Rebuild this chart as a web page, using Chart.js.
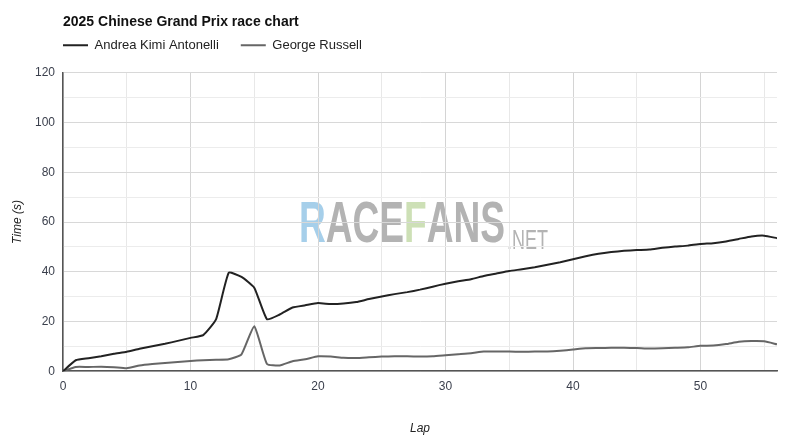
<!DOCTYPE html>
<html>
<head>
<meta charset="utf-8">
<script src="https://cdn.jsdelivr.net/npm/chart.js@4.4.1/dist/chart.umd.min.js"></script>
<style>
  html, body { margin: 0; padding: 0; background: #fff; }
  #wrap { width: 800px; height: 444px; }
</style>
</head>
<body>
<div id="wrap"><canvas id="raceChart" width="800" height="444"></canvas></div>
<script>
"use strict";

// Varv
const laps = [0, 1, 2, 3, 4, 5, 6, 7, 8, 9, 10, 11, 12, 13, 14, 15, 16, 17, 18, 19,
    20, 21, 22, 23, 24, 25, 26, 27, 28, 29, 30, 31, 32, 33, 34, 35, 36, 37, 38, 39,
    40, 41, 42, 43, 44, 45, 46, 47, 48, 49, 50, 51, 52, 53, 54, 55, 56];

// Tid (s) per förare
const antonelli = [0, 4.4, 5.2, 6.0, 7.0, 7.8, 9.0, 10.0, 11.0, 12.2, 13.4, 14.5, 20.8, 39.6, 37.9, 33.6,
    20.9, 22.8, 25.6, 26.5, 27.4, 27.0, 27.2, 27.8, 29.0, 30.0, 31.0, 31.8, 32.8, 34.0, 35.2, 36.2,
    37.0, 38.3, 39.3, 40.3, 41.0, 41.8, 42.8, 43.8, 45.0, 46.2, 47.2, 47.9, 48.4, 48.7, 48.9, 49.6,
    50.1, 50.5, 51.2, 51.5, 52.2, 53.2, 54.2, 54.5, 53.5];

const russell = [0, 1.7, 1.7, 1.8, 1.6, 1.2, 2.3, 2.9, 3.3, 3.7, 4.1, 4.4, 4.6, 4.8, 6.8, 18.1,
    2.9, 2.3, 4.0, 4.8, 6.0, 5.9, 5.4, 5.3, 5.6, 5.9, 6.0, 6.0, 5.9, 6.0, 6.4, 6.8,
    7.2, 7.9, 7.9, 7.9, 7.8, 7.9, 7.9, 8.2, 8.7, 9.2, 9.3, 9.4, 9.4, 9.3, 9.1, 9.2,
    9.4, 9.6, 10.2, 10.3, 10.9, 11.8, 12.1, 12.0, 10.8];

const drivers = ["Andrea Kimi Antonelli", "George Russell"];
const xTicks = [0, 10, 20, 30, 40, 50];
const yTicks = [0, 20, 40, 60, 80, 100, 120];

const font = "'Liberation Sans', Arial, sans-serif";
const tickColor = "#3a3f4c";
const legendGap = 22;

// Vattenstämpel bakom rutnätet
const watermark = {
    id: "watermark",
    beforeDraw(chart) {
        const c = chart.ctx;
        const parts = [
            ["R", "#a6cfea"], ["ACE", "#b3b3b3"], ["F", "#cde0b6"], ["ANS", "#b3b3b3"]
        ];
        c.save();
        c.font = "bold 58px 'Liberation Sans Narrow', 'Liberation Sans', sans-serif";
        c.textBaseline = "alphabetic";
        let total = 0;
        parts.forEach(p => total += c.measureText(p[0]).width);
        c.translate(299, 242);
        c.scale(206 / total, 1);
        let x = 0;
        parts.forEach(p => {
            c.fillStyle = p[1];
            c.fillText(p[0], x, 0);
            x += c.measureText(p[0]).width;
        });
        c.restore();

        c.save();
        c.font = "27px 'Liberation Sans Narrow', 'Liberation Sans', sans-serif";
        const w = c.measureText(".NET").width;
        c.translate(507, 242);
        c.scale(41 / w, 1);
        c.fillStyle = "#b3b3b3";
        c.fillText(".NET", 0, 0);
        c.restore();
    }
};

// Flytta legenden till diagramytans vänsterkant och lite uppåt
const legendShift = {
    id: "legendShift",
    afterLayout(chart) {
        chart.legend.left -= legendGap;
        chart.legend.right -= legendGap;
        chart.legend.top -= 11;
    }
};

const ctx = document.getElementById("raceChart");

new Chart(ctx, {
    type: "line",
    data: {
        datasets: [{
            label: drivers[0],
            data: laps.map((l, i) => ({ x: l, y: antonelli[i] })),
            borderColor: "#222222",
            backgroundColor: "#222222",
            borderWidth: 2,
            pointRadius: 0,
            tension: 0.15
        }, {
            label: drivers[1],
            data: laps.map((l, i) => ({ x: l, y: russell[i] })),
            borderColor: "#666666",
            backgroundColor: "#666666",
            borderWidth: 2,
            pointRadius: 0,
            tension: 0.15
        }]
    },
    options: {
        responsive: false,
        animation: false,
        layout: { padding: { left: 0, right: 23, top: 4, bottom: 4 } },
        plugins: {
            title: {
                display: true,
                text: "2025 Chinese Grand Prix race chart",
                align: "start",
                fullSize: false,
                color: "#111",
                font: { family: font, size: 14, weight: "bold" },
                padding: { top: 10, bottom: -3 }
            },
            legend: {
                align: "start",
                fullSize: false,
                labels: {
                    usePointStyle: true,
                    pointStyle: "line",
                    pointStyleWidth: 25,
                    boxHeight: 12,
                    padding: legendGap,
                    color: "#222",
                    font: { family: font, size: 13 }
                }
            },
            tooltip: { enabled: false }
        },
        scales: {
            x: {
                type: "linear",
                min: 0,
                max: 56,
                afterBuildTicks: (scale) => {
                    scale.ticks = [0, 5, 10, 15, 20, 25, 30, 35, 40, 45, 50, 55].map(v => ({ value: v }));
                },
                ticks: {
                    color: tickColor,
                    font: { family: font, size: 12 },
                    padding: 8,
                    maxRotation: 0,
                    autoSkip: false,
                    callback: (v) => xTicks.includes(v) ? v : ""
                },
                grid: {
                    color: (c) => c.tick && c.tick.value % 10 === 0 ? "#d4d4d4" : "#e8e8e8",
                    drawTicks: false
                },
                border: { color: "#555", width: 1.5 },
                title: {
                    display: true,
                    text: "Lap",
                    color: "#222",
                    font: { family: font, size: 12, style: "italic" },
                    padding: { top: 20 }
                }
            },
            y: {
                min: 0,
                max: 120,
                afterBuildTicks: (scale) => {
                    scale.ticks = [0, 10, 20, 30, 40, 50, 60, 70, 80, 90, 100, 110, 120].map(v => ({ value: v }));
                },
                afterFit: (scale) => { scale.width = 63; },
                ticks: {
                    color: tickColor,
                    font: { family: font, size: 12 },
                    padding: 8,
                    callback: (v) => yTicks.includes(v) ? v : ""
                },
                grid: {
                    color: (c) => c.tick && c.tick.value % 20 === 0 ? "#d8d8d8" : "#ececec",
                    drawTicks: false
                },
                border: { color: "#555", width: 1.5 },
                title: {
                    display: true,
                    text: "Time (s)",
                    color: "#222",
                    font: { family: font, size: 12, style: "italic" },
                    padding: { top: 10, bottom: 0 }
                }
            }
        }
    },
    plugins: [watermark, legendShift]
});
</script>
</body>
</html>
